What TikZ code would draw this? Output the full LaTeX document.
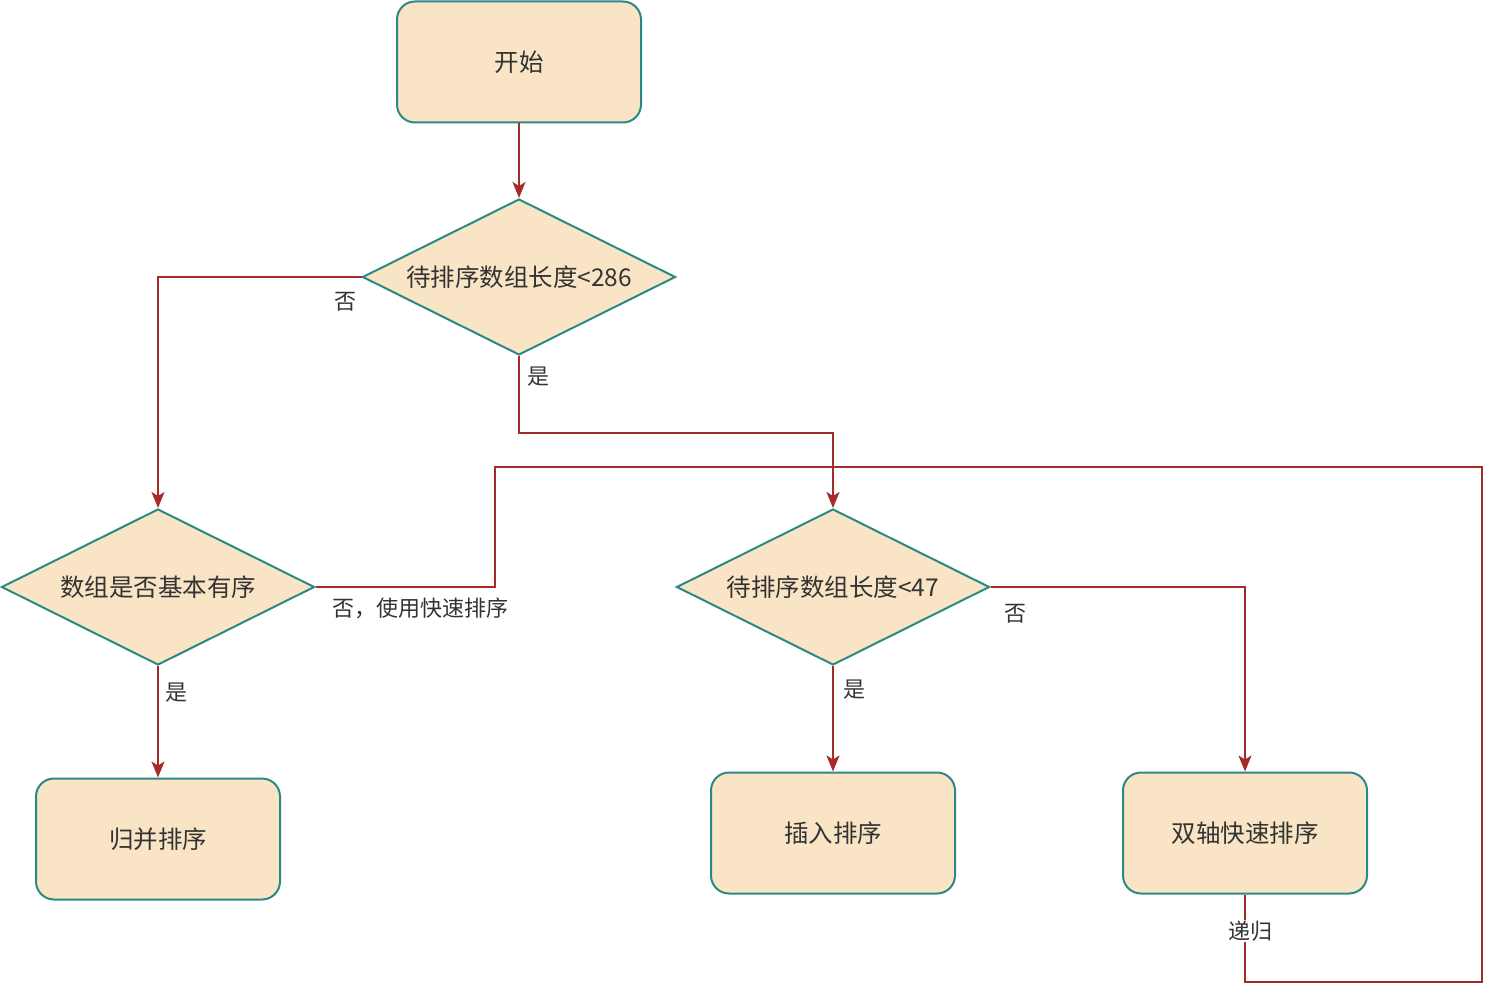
\documentclass[tikz,border=0pt]{standalone}
\usepackage{fontspec}
\setmainfont{Noto Sans CJK SC}
\usetikzlibrary{shapes.geometric,arrows.meta}
\definecolor{boxfill}{HTML}{F9E5C6}
\definecolor{boxline}{HTML}{2A8A83}
\definecolor{edgecol}{HTML}{A52A2A}
\definecolor{txt}{HTML}{333333}
\begin{document}
\begin{tikzpicture}[x=1pt,y=-1pt,
  box/.style={draw=boxline,fill=boxfill,line width=2pt,rounded corners=18pt,
    minimum width=244pt,minimum height=121pt,inner sep=0pt,
    font=\fontsize{24.5}{28}\selectfont,text=txt},
  dia/.style={draw=boxline,fill=boxfill,line width=2pt,diamond,aspect=2.01,
    minimum width=313pt,minimum height=156pt,inner sep=0pt,
    font=\fontsize{24.5}{28}\selectfont,text=txt},
  edge/.style={draw=edgecol,line width=2pt},
  arr/.style={edge,-{Stealth[length=16pt,width=13pt,inset=4pt]}},
  lab/.style={font=\fontsize{22}{26}\selectfont,text=txt,inner sep=0pt}]
\useasboundingbox (0,0) rectangle (1500,1000);
\node[box] (start) at (519,62) {开始};
\node[dia] (d1) at (519,277) {待排序数组长度<286};
\node[dia] (d2) at (158,587) {数组是否基本有序};
\node[dia] (d3) at (833,587) {待排序数组长度<47};
\node[box] (merge) at (158,839) {归并排序};
\node[box] (ins) at (833,833) {插入排序};
\node[box] (dq) at (1245,833) {双轴快速排序};
\coordinate (p1) at (495,587);
\coordinate (p2) at (495,467);
\coordinate (p3) at (1482,467);
\coordinate (p4) at (1482,982);
\coordinate (p5) at (1245,982);
\draw[arr] (start.south) -- (d1.north);
\draw[arr] (d1.west) -| (d2.north);
\draw[arr] (d1.south) -- ++(0,77) -| (d3.north);
\draw[arr] (d2.south) -- (merge.north);
\draw[arr] (d3.south) -- (ins.north);
\draw[arr] (d3.east) -| (dq.north);
\draw[edge] (d2.east) -- (p1) -- (p2) -- (p3) -- (p4) -- (p5) -- (dq.south);
\node[lab] (l1) at (345,302) {否};
\node[lab] (l2) at (538,377) {是};
\node[lab] (l3) at (176,693) {是};
\node[lab] (l4) at (420,608) {否，使用快速排序};
\node[lab] (l5) at (854,690) {是};
\node[lab] (l6) at (1015,614) {否};
\node[lab,fill=white,inner sep=1pt] (l7) at (1250,931) {递归};
\end{tikzpicture}
\end{document}
